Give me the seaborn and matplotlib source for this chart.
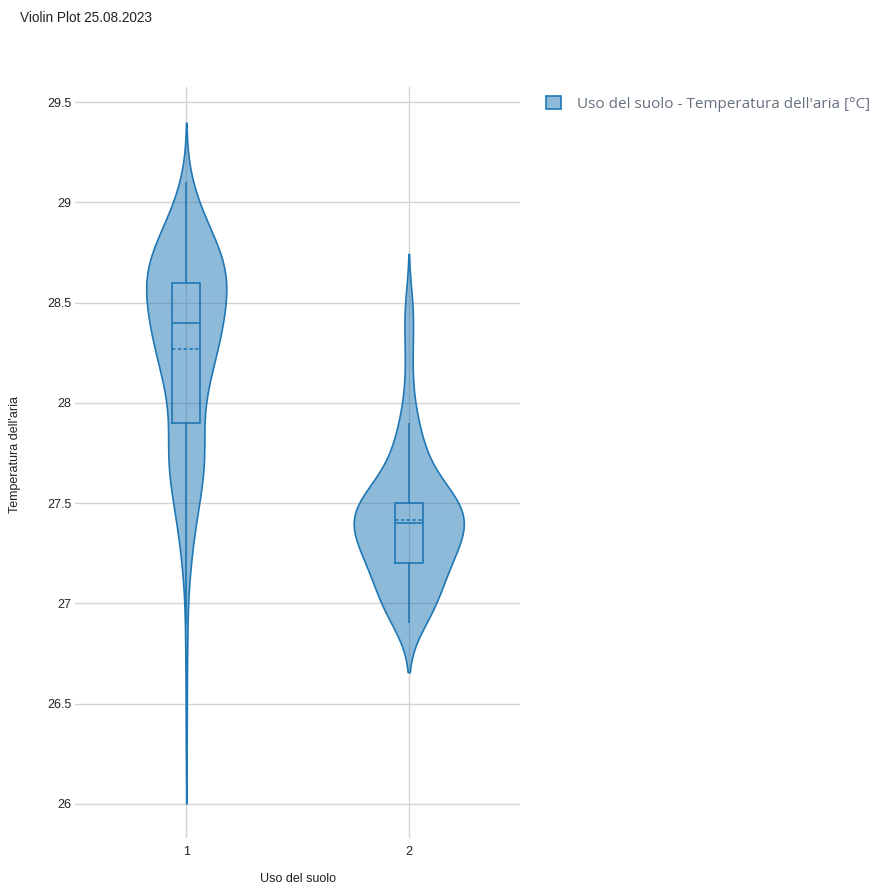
import numpy as np
import pandas as pd
import matplotlib
matplotlib.use("Agg")
import matplotlib.pyplot as plt
from matplotlib.colors import to_rgba
from matplotlib.patches import Patch
import seaborn as sns

# Land-use classes on the x axis
categories = ["1", "2"]

# Air temperature readings (°C) per land-use class, stored as value / count tables
temps_1 = [26.3, 26.5, 26.7, 26.8, 26.9, 27.0, 27.1, 27.2, 27.3, 27.4, 27.5, 27.6,
           27.7, 27.8, 27.9, 28.0, 28.1, 28.2, 28.3, 28.4, 28.5, 28.6, 28.7, 28.8,
           28.9, 29.0, 29.1]
counts_1 = [1, 1, 1, 1, 1, 1, 2, 4, 6, 8, 12, 15,
            19, 18, 13, 15, 20, 26, 30, 36, 34, 42, 40, 28,
            18, 10, 4]

temps_2 = [26.9, 27.0, 27.1, 27.2, 27.3, 27.4, 27.5, 27.6, 27.7, 27.8, 27.9, 28.0,
           28.1, 28.2, 28.3, 28.4, 28.5]
counts_2 = [18, 30, 30, 40, 48, 60, 58, 28, 18, 14, 9, 5,
            3, 3, 4, 4, 6]

y_ticks = [26, 26.5, 27, 27.5, 28, 28.5, 29, 29.5]
y_tick_labels = ["26", "26.5", "27", "27.5", "28", "28.5", "29", "29.5"]

title = "Violin Plot 25.08.2023"
x_label = "Uso del suolo"
y_label = "Temperatura dell'aria"
series_label = "Uso del suolo - Temperatura dell'aria [°C]"

# Long-form table built from the count tables
df = pd.DataFrame({
    "uso": np.concatenate([np.repeat(categories[0], sum(counts_1)),
                           np.repeat(categories[1], sum(counts_2))]),
    "temp": np.concatenate([np.repeat(temps_1, counts_1),
                            np.repeat(temps_2, counts_2)]),
})

blue = "#1f77b4"
fill = to_rgba(blue, 0.5)

sns.set_theme(style="white")
plt.rcParams["font.family"] = ["Liberation Sans", "DejaVu Sans"]

W, H = 874, 885
fig = plt.figure(figsize=(W / 100, H / 100), dpi=100)
top_px, bottom_px, left_px, right_px = 86.7, 838, 75, 520
ax = fig.add_axes([left_px / W, 1 - bottom_px / H,
                   (right_px - left_px) / W, (bottom_px - top_px) / H])

# one violin per class, each with its own smoothing and width
violin_style = {"1": dict(bw_adjust=1.0, width=0.36),
                "2": dict(bw_adjust=1.2, width=0.495)}
for cat in categories:
    sns.violinplot(data=df[df["uso"] == cat], x="uso", y="temp",
                   order=categories, color=blue, saturation=1, inner=None,
                   cut=2, density_norm="area", linewidth=1.2,
                   linecolor=blue, ax=ax, **violin_style[cat])
for coll in ax.collections:
    coll.set_facecolor(fill)
    coll.set_edgecolor(blue)

sns.boxplot(data=df, x="uso", y="temp", order=categories, width=0.125,
            fill=False, color=blue, linewidth=1.2, showfliers=False,
            showcaps=False, showmeans=True, meanline=True,
            meanprops=dict(linestyle=(0, (2, 1.5)), color=blue, linewidth=1.2),
            ax=ax)

ax.set_xlim(-0.5, 1.5)
ax.set_ylim(25.83, 29.577)
ax.set_yticks(y_ticks)
ax.set_yticklabels(y_tick_labels)
ax.set_xticks([0, 1])
ax.set_xticklabels(categories)

ax.grid(True, color="#d4d4d4", linewidth=1)
ax.set_axisbelow(True)
for s in ax.spines.values():
    s.set_visible(False)
ax.tick_params(axis="y", length=0, pad=2.5, labelsize=9, labelcolor="#222222")
ax.tick_params(axis="x", length=0, pad=5.5, labelsize=9, labelcolor="#222222")

ax.set_xlabel(x_label, fontsize=9, color="#222222")
ax.set_ylabel(y_label, fontsize=9, color="#222222")
ax.xaxis.set_label_coords(0.5, (bottom_px - 873) / (bottom_px - top_px))
ax.yaxis.set_label_coords((21 - left_px) / (right_px - left_px), 0.51)

fig.text(20 / W, 1 - 18 / H, title, ha="left", va="center", fontsize=9.8,
         color="#222222")

handle = Patch(facecolor=fill, edgecolor=blue, linewidth=1.2, label=series_label)
fig.legend(handles=[handle], loc="upper left",
           bbox_to_anchor=(546 / W, 1 - 96 / H), frameon=False,
           prop={"family": ["Open Sans", "DejaVu Sans"], "size": 11},
           labelcolor="#66707f", handlelength=0.98, handleheight=0.98,
           handletextpad=1.05, borderpad=0, borderaxespad=0)

fig.savefig("out.png", dpi=100, facecolor="white")
